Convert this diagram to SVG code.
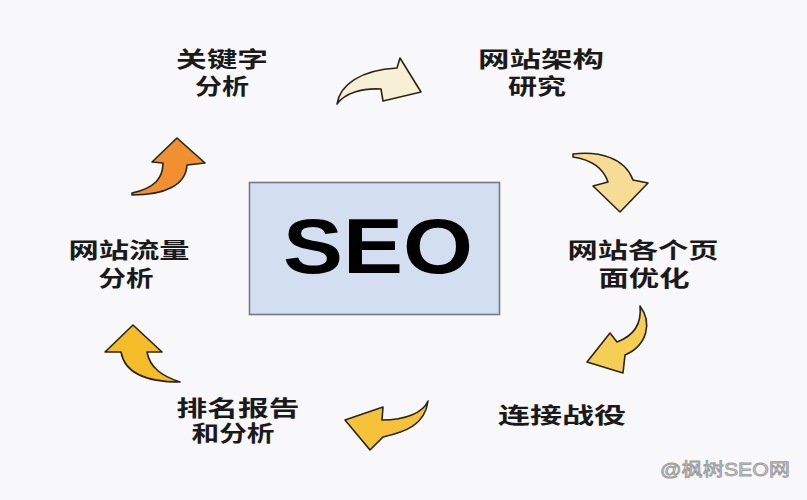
<svg xmlns="http://www.w3.org/2000/svg" width="807" height="500" viewBox="0 0 807 500">
<style>
.lbl{font-family:"Noto Sans CJK SC","Noto Sans",sans-serif;font-weight:700;font-size:22px;fill:#1a1a1a;text-anchor:middle}
.arr{stroke:#2a2418;stroke-width:1.6;stroke-linejoin:round}
</style>
<rect width="807" height="500" fill="#f8f8fa"/>
<g id="center">
<rect x="249.5" y="182.5" width="250" height="132" fill="#d3dff0" stroke="#737a84" stroke-width="1.6"/>
<text x="283" y="273" font-family="Liberation Sans, Arial, sans-serif" font-weight="700" font-size="77" fill="#000" textLength="190" lengthAdjust="spacingAndGlyphs">SEO</text>
</g>
<g id="n1"><text class="lbl" x="222" y="67" textLength="92" lengthAdjust="spacingAndGlyphs">关键字</text><text class="lbl" x="222" y="94" textLength="54" lengthAdjust="spacingAndGlyphs">分析</text></g>
<g id="n2"><text class="lbl" x="541" y="67" textLength="126" lengthAdjust="spacingAndGlyphs">网站架构</text><text class="lbl" x="537" y="94" textLength="58" lengthAdjust="spacingAndGlyphs">研究</text></g>
<g id="n3"><text class="lbl" x="643" y="258" textLength="151" lengthAdjust="spacingAndGlyphs">网站各个页</text><text class="lbl" x="644" y="286" textLength="91" lengthAdjust="spacingAndGlyphs">面优化</text></g>
<g id="n4"><text class="lbl" x="562" y="423" textLength="128" lengthAdjust="spacingAndGlyphs">连接战役</text></g>
<g id="n5"><text class="lbl" x="238" y="416" textLength="123" lengthAdjust="spacingAndGlyphs">排名报告</text><text class="lbl" x="233" y="441" textLength="83" lengthAdjust="spacingAndGlyphs">和分析</text></g>
<g id="n6"><text class="lbl" x="129" y="258" textLength="121" lengthAdjust="spacingAndGlyphs">网站流量</text><text class="lbl" x="126" y="286" textLength="55" lengthAdjust="spacingAndGlyphs">分析</text></g>
<g id="connectors">
<path class="arr" fill="#f7f0d6" d="M337,104 C340,85 360,70 397,68 L400,58 L421,92 L383,101 L381,89 C362,88 345,93 337,104 Z"/>
<path class="arr" fill="#f7dc95" d="M573,154 C600,151 625,158 633,180 L648,183 L620,212 L593,186 L608,182 C604,170 593,160 573,157 Z"/>
<path class="arr" fill="#f5cf55" d="M640,306 C652,322 648,345 625,355 L623,373 L587,362 L610,333 L617,342 C633,336 642,325 640,306 Z"/>
<path class="arr" fill="#f5c23a" d="M428,401 C425,425 405,432 383,437 L370,450 L345,420 L383,407 L382,420 C405,420 423,413 428,401 Z"/>
<path class="arr" fill="#f5bc2a" d="M180,382 C150,382 125,375 121,352 L105,352 L133,325 L162,352 L147,352 C150,368 162,376 180,382 Z"/>
<path class="arr" fill="#f09030" d="M132,193 C155,188 163,178 163,163 L152,162 L177,138 L205,163 L187,165 C186,185 165,195 132,195 Z"/>
</g>
<text x="660" y="476" font-family="Liberation Sans, 'Noto Sans CJK SC', sans-serif" font-size="18" fill="#d0d0d0" stroke="#9a9a9a" stroke-width="0.8" textLength="130" lengthAdjust="spacingAndGlyphs">@枫树SEO网</text>
</svg>
